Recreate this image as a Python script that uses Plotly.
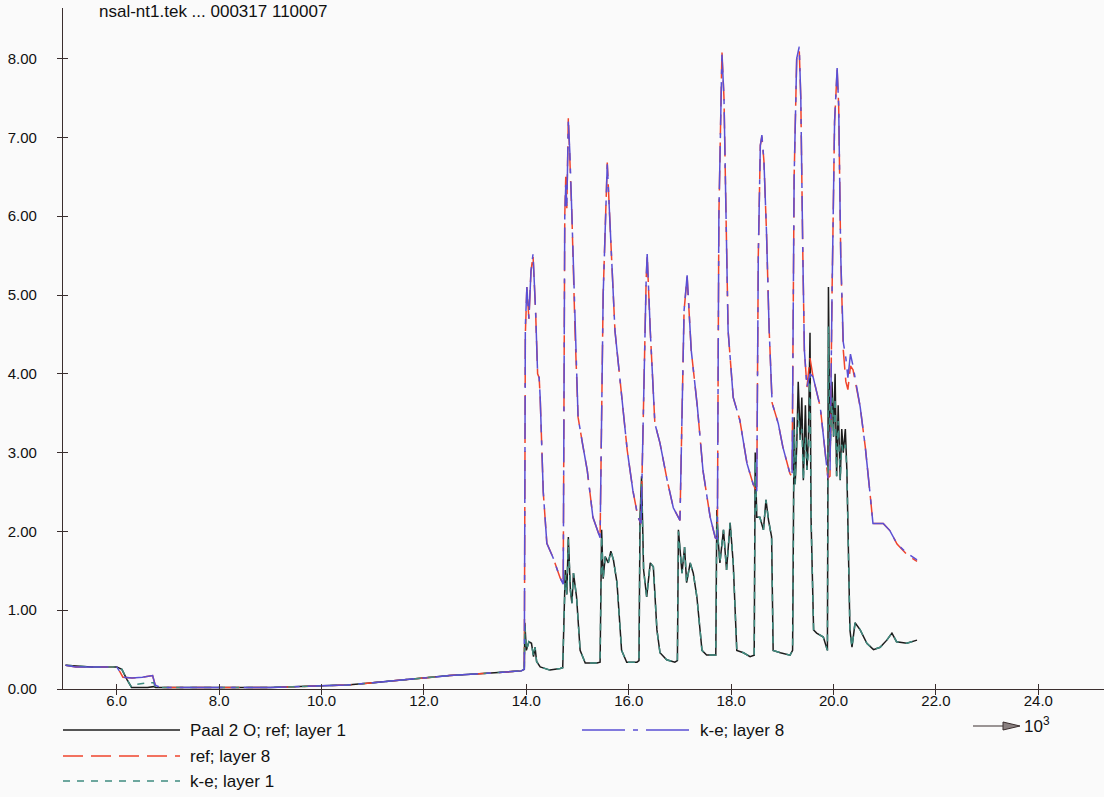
import plotly.graph_objects as go

# x in units of 10^3
x_layer8 = [5.00, 5.20, 5.50, 6.00, 6.06, 6.12, 6.30, 6.50, 6.70, 6.75, 6.85, 7.50, 8.00, 9.00, 10.00, 10.50, 11.00, 11.50, 12.00, 12.50, 13.00, 13.50, 13.90, 13.96,
            13.98, 14.01, 14.05, 14.09, 14.13, 14.18, 14.22, 14.25, 14.27, 14.33, 14.40, 14.52, 14.66, 14.72,
            14.75, 14.77, 14.79, 14.82, 14.85, 14.89, 14.95, 15.01, 15.10, 15.19, 15.30, 15.44,
            15.50, 15.53, 15.56, 15.58, 15.62, 15.67, 15.73, 15.83, 15.97, 16.08, 16.18, 16.24,
            16.31, 16.34, 16.36, 16.39, 16.42, 16.51, 16.61, 16.75, 16.87, 17.00,
            17.08, 17.14, 17.18, 17.22, 17.34, 17.45, 17.59, 17.69, 17.73,
            17.76, 17.82, 17.86, 17.90, 17.94, 18.04, 18.17, 18.31, 18.43, 18.50,
            18.53, 18.57, 18.60, 18.64, 18.69, 18.74, 18.80, 18.92, 19.01, 19.15, 19.19,
            19.23, 19.28, 19.33, 19.36, 19.40, 19.43, 19.48, 19.54, 19.60, 19.74, 19.89, 19.93,
            19.97, 20.02, 20.07, 20.10, 20.14, 20.19, 20.24, 20.28, 20.33, 20.38, 20.52, 20.62, 20.72, 20.77, 20.97, 21.10, 21.24, 21.44, 21.63]

ref_layer8 = [0.30, 0.28, 0.28, 0.28, 0.22, 0.15, 0.14, 0.15, 0.17, 0.05, 0.02, 0.02, 0.02, 0.02, 0.04, 0.05, 0.08, 0.11, 0.14, 0.17, 0.19, 0.21, 0.23, 0.25,
              4.50, 5.10, 4.70, 5.30, 5.50, 4.80, 4.00, 3.95, 3.70, 2.50, 1.85, 1.67, 1.41, 1.33,
              6.00, 6.50, 6.10, 7.25, 6.80, 6.00, 4.55, 3.45, 3.10, 2.77, 2.18, 1.92,
              5.00, 5.60, 6.00, 6.68, 6.10, 5.30, 4.55, 3.92, 3.03, 2.52, 2.18, 2.10,
              4.50, 5.20, 5.50, 5.00, 4.55, 3.37, 3.12, 2.65, 2.30, 2.14,
              4.80, 5.23, 4.80, 4.30, 3.58, 2.77, 2.18, 1.92, 1.90,
              6.00, 8.09, 7.50, 6.00, 4.55, 3.70, 3.41, 2.86, 2.60, 2.50,
              5.50, 6.90, 7.01, 6.70, 5.80, 4.60, 3.63, 3.37, 3.07, 2.73, 2.70,
              6.50, 8.00, 8.10, 7.50, 5.50, 4.30, 3.83, 4.20, 3.96, 3.58, 2.68, 2.70,
              5.00, 7.20, 7.86, 7.40, 5.50, 4.30, 3.90, 3.80, 4.10, 4.05, 3.58, 3.07, 2.43, 2.10, 2.10, 2.01, 1.84, 1.70, 1.62]

ke_layer8 = [0.30, 0.28, 0.28, 0.28, 0.22, 0.15, 0.14, 0.15, 0.17, 0.05, 0.02, 0.02, 0.02, 0.02, 0.04, 0.05, 0.08, 0.11, 0.14, 0.17, 0.19, 0.21, 0.23, 0.25,
             4.60, 5.10, 4.70, 5.30, 5.52, 4.80, 4.00, 3.95, 3.70, 2.50, 1.85, 1.67, 1.41, 1.33,
             6.00, 6.40, 6.10, 7.20, 6.80, 6.00, 4.55, 3.45, 3.10, 2.77, 2.18, 1.92,
             5.00, 5.60, 6.00, 6.66, 6.10, 5.30, 4.55, 3.92, 3.03, 2.52, 2.18, 2.10,
             4.50, 5.20, 5.52, 5.00, 4.55, 3.37, 3.12, 2.65, 2.30, 2.14,
             4.80, 5.25, 4.80, 4.30, 3.58, 2.77, 2.18, 1.92, 1.90,
             6.00, 8.05, 7.50, 6.00, 4.55, 3.70, 3.41, 2.86, 2.60, 2.50,
             5.50, 6.90, 7.03, 6.70, 5.80, 4.60, 3.63, 3.37, 3.07, 2.73, 2.70,
             6.50, 8.00, 8.15, 7.50, 5.50, 4.30, 3.83, 4.00, 3.96, 3.58, 2.68, 2.70,
             5.00, 7.20, 7.88, 7.40, 5.50, 4.40, 4.20, 3.95, 4.25, 4.10, 3.58, 3.07, 2.43, 2.10, 2.10, 2.01, 1.84, 1.72, 1.64]

x_layer1 = [5.00, 5.50, 6.00, 6.10, 6.20, 6.29, 6.40, 6.60, 6.72, 6.76, 6.85, 7.50, 8.00, 9.00, 10.00, 10.50, 11.00, 11.50, 12.00, 12.50, 13.00, 13.50, 13.90, 13.96,
            13.97, 14.00, 14.05, 14.10, 14.14, 14.17, 14.20, 14.27, 14.46, 14.66, 14.71,
            14.76, 14.79, 14.82, 14.86, 14.89, 14.92, 14.98, 15.05, 15.15, 15.38, 15.44,
            15.47, 15.50, 15.54, 15.60, 15.65, 15.70, 15.77, 15.86, 15.96, 16.16, 16.20,
            16.22, 16.25, 16.29, 16.35, 16.42, 16.48, 16.55, 16.61, 16.74, 16.90, 16.95,
            16.97, 17.04, 17.09, 17.13, 17.20, 17.26, 17.33, 17.43, 17.52, 17.70,
            17.72, 17.75, 17.78, 17.85, 17.91, 17.98, 18.04, 18.11, 18.24, 18.37, 18.45,
            18.47, 18.50, 18.56, 18.63, 18.68, 18.73, 18.79, 18.82, 18.96, 19.15, 19.20,
            19.23, 19.25, 19.28, 19.31, 19.35, 19.38, 19.41, 19.45, 19.48, 19.51, 19.54, 19.56, 19.61, 19.67, 19.80, 19.88,
            19.90, 19.93, 19.97, 20.00, 20.03, 20.06, 20.09, 20.13, 20.16, 20.19, 20.23, 20.26, 20.32, 20.36, 20.42, 20.52, 20.65, 20.78, 20.91, 21.04, 21.14, 21.23, 21.43, 21.63]

ref_layer1 = [0.30, 0.28, 0.28, 0.25, 0.12, 0.02, 0.02, 0.02, 0.03, 0.02, 0.02, 0.02, 0.02, 0.02, 0.04, 0.05, 0.08, 0.11, 0.14, 0.17, 0.19, 0.21, 0.23, 0.25,
              0.84, 0.49, 0.60, 0.58, 0.41, 0.53, 0.35, 0.28, 0.24, 0.26, 0.27,
              1.51, 1.20, 1.93, 1.25, 1.09, 1.47, 1.17, 0.49, 0.33, 0.33, 0.34,
              2.02, 1.40, 1.68, 1.60, 1.75, 1.64, 1.35, 0.49, 0.34, 0.34, 0.36,
              2.18, 2.70, 1.51, 1.17, 1.60, 1.55, 0.75, 0.46, 0.37, 0.34, 0.36,
              2.02, 1.47, 1.80, 1.35, 1.60, 1.47, 1.17, 0.49, 0.43, 0.43,
              2.27, 1.85, 1.60, 2.02, 1.51, 2.11, 1.60, 0.49, 0.46, 0.41, 0.43,
              3.00, 2.18, 2.18, 2.02, 2.40, 2.14, 1.93, 0.49, 0.46, 0.43, 0.49,
              3.45, 2.60, 3.07, 3.90, 3.16, 3.70, 2.65, 3.60, 2.78, 3.20, 4.52, 2.18, 0.75, 0.71, 0.66, 0.49,
              5.10, 2.94, 3.90, 3.20, 4.00, 2.70, 3.60, 2.65, 3.30, 3.00, 3.30, 2.78, 0.75, 0.53, 0.84, 0.75, 0.58, 0.50, 0.53, 0.62, 0.71, 0.60, 0.58, 0.62]

ke_layer1 = [0.30, 0.28, 0.28, 0.25, 0.12, 0.02, 0.06, 0.08, 0.08, 0.02, 0.02, 0.02, 0.02, 0.02, 0.04, 0.05, 0.08, 0.11, 0.14, 0.17, 0.19, 0.21, 0.23, 0.25,
             0.80, 0.49, 0.60, 0.58, 0.41, 0.53, 0.35, 0.28, 0.24, 0.26, 0.27,
             1.45, 1.20, 1.90, 1.25, 1.09, 1.47, 1.17, 0.49, 0.33, 0.33, 0.34,
             1.95, 1.40, 1.68, 1.60, 1.75, 1.64, 1.35, 0.49, 0.34, 0.34, 0.36,
             2.10, 2.60, 1.51, 1.17, 1.60, 1.55, 0.75, 0.46, 0.37, 0.34, 0.36,
             2.00, 1.47, 1.80, 1.35, 1.60, 1.47, 1.17, 0.49, 0.43, 0.43,
             2.20, 1.85, 1.60, 2.02, 1.51, 2.11, 1.60, 0.49, 0.46, 0.41, 0.43,
             2.90, 2.18, 2.18, 2.02, 2.40, 2.14, 1.93, 0.49, 0.46, 0.43, 0.49,
             3.30, 2.60, 3.20, 3.50, 3.16, 3.30, 2.65, 3.20, 2.78, 3.00, 4.00, 2.18, 0.75, 0.71, 0.66, 0.49,
             4.60, 2.94, 3.70, 3.20, 3.70, 2.70, 3.40, 2.65, 3.10, 3.00, 3.10, 2.78, 0.75, 0.53, 0.84, 0.75, 0.58, 0.50, 0.53, 0.62, 0.71, 0.60, 0.58, 0.62]

x_ticks = [6, 8, 10, 12, 14, 16, 18, 20, 22, 24]
y_ticks = [0, 1, 2, 3, 4, 5, 6, 7, 8]

names = ["Paal 2 O; ref; layer 1", "ref; layer 8", "k-e; layer 1", "k-e; layer 8"]
colors = ["#1c1c1c", "#f0442c", "#3f8c80", "#5a4fd4"]
dashes = ["solid", "20px,8px", "7px,7px", "43px,8px,5px,8px"]

AXIS = "#3a2e2e"
TEXT = "#111111"
FONT = "Liberation Sans, Arial, sans-serif"

W, H = 1104, 797
L, R, T, B = 63, 0, 8, 108
PW, PH = W - L - R, H - T - B


def px(xp):
    return (xp - L) / PW


def py(yp):
    return (H - B - yp) / PH


fig = go.Figure()
series = [(x_layer1, ref_layer1), (x_layer8, ref_layer8), (x_layer1, ke_layer1), (x_layer8, ke_layer8)]
for (xs, ys), name, col, dash in zip(series, names, colors, dashes):
    fig.add_trace(go.Scatter(x=xs, y=ys, mode="lines", name=name,
                             line=dict(color=col, width=1.5, dash=dash),
                             showlegend=False))

# companion axes carrying the inner half of each cross tick
fig.add_trace(go.Scatter(x=[None], y=[None], xaxis="x2", yaxis="y2",
                         mode="lines", showlegend=False, hoverinfo="skip"))

xr = [4.95, 4.95 + PW / 51.2]
yr = [0, PH / 78.8]

fig.update_layout(
    width=W, height=H,
    margin=dict(l=L, r=R, t=T, b=B, autoexpand=False),
    paper_bgcolor="#fafafa", plot_bgcolor="#fafafa",
    font=dict(family=FONT, color=TEXT, size=15),
    showlegend=False,
    xaxis=dict(range=xr, tickvals=x_ticks, ticktext=[f"{v:.1f}" for v in x_ticks],
               ticks="outside", ticklen=5, tickwidth=1.2, tickcolor=AXIS,
               showline=True, linecolor=AXIS, linewidth=1.3, automargin=False,
               showgrid=False, zeroline=False, tickfont=dict(size=15),
               ticklabelstandoff=-7),
    yaxis=dict(range=yr, tickvals=y_ticks, ticktext=[f"{v:.2f}" for v in y_ticks],
               ticks="outside", ticklen=5, tickwidth=1.2, tickcolor=AXIS,
               showline=True, linecolor=AXIS, linewidth=1.3, automargin=False,
               showgrid=False, zeroline=False, tickfont=dict(size=15),
               ticklabelstandoff=17),
    xaxis2=dict(range=xr, overlaying="x", anchor="y2", side="bottom",
                tickvals=x_ticks, ticks="inside", ticklen=5, tickwidth=1.2,
                tickcolor=AXIS, showticklabels=False, showline=False,
                showgrid=False, zeroline=False, automargin=False),
    yaxis2=dict(range=yr, overlaying="y", anchor="x2", side="left",
                tickvals=y_ticks, ticks="inside", ticklen=5, tickwidth=1.2,
                tickcolor=AXIS, showticklabels=False, showline=False,
                showgrid=False, zeroline=False, automargin=False),
)

# file header line at the top edge
fig.add_annotation(text="nsal-nt1.tek ... 000317 110007", xref="paper", yref="paper",
                   x=px(97), y=py(0), xanchor="left", yanchor="top",
                   showarrow=False, font=dict(size=17, color=TEXT))

# key: line samples with labels
key_rows = [(0, 63, 180, 730), (1, 63, 180, 756), (2, 63, 180, 781), (3, 582, 690, 730)]
for idx, x0, x1, yk in key_rows:
    fig.add_shape(type="line", xref="paper", yref="paper",
                  x0=px(x0), x1=px(x1), y0=py(yk), y1=py(yk),
                  line=dict(color=colors[idx], width=1.3, dash=dashes[idx]))
    fig.add_annotation(text=names[idx], xref="paper", yref="paper",
                       x=px(x1 + 8), y=py(yk), xanchor="left", yanchor="middle",
                       showarrow=False, font=dict(size=17, color=TEXT))

# x unit marker: arrow towards the power-of-ten label
fig.add_shape(type="line", xref="paper", yref="paper",
              x0=px(973), x1=px(1006), y0=py(726), y1=py(726),
              line=dict(color=AXIS, width=1.2))
fig.add_shape(type="path", xref="paper", yref="paper",
              path=(f"M {px(1003)},{py(722)} L {px(1020)},{py(726)} "
                    f"L {px(1003)},{py(730)} Z"),
              fillcolor="#8a8080", line=dict(color=AXIS, width=1))
fig.add_annotation(text="10<sup>3</sup>", xref="paper", yref="paper",
                   x=px(1022), y=py(725), xanchor="left", yanchor="middle",
                   showarrow=False, font=dict(size=17, color=TEXT))

fig.write_html("out.html")
